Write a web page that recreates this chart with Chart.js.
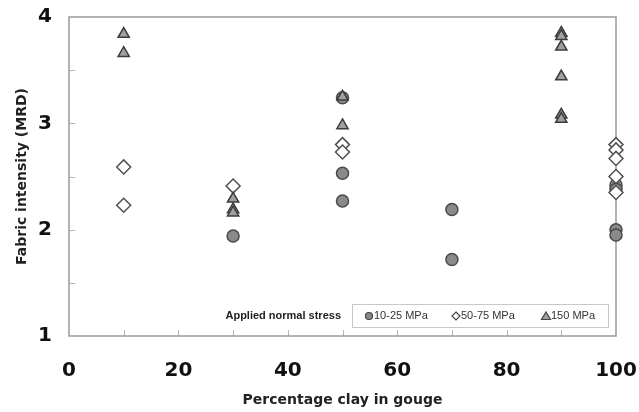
<!DOCTYPE html>
<html>
<head>
<meta charset="utf-8">
<script src="https://cdn.jsdelivr.net/npm/chart.js@4.4.1/dist/chart.umd.min.js"></script>
<style>
  body { margin: 0; background: #fff; }
  #wrap { width: 639px; height: 412px; }
</style>
</head>
<body>
<div id="wrap"><canvas id="fabricChart" width="639" height="412"></canvas></div>
<script>
// clay content (%) and fabric intensity (MRD) for each stress range
const lowX = [30, 50, 50, 50, 70, 70, 100, 100, 100, 100];
const lowY = [1.94, 3.24, 2.53, 2.27, 2.19, 1.72, 2.42, 2.38, 2.00, 1.95];

const midX = [10, 10, 30, 50, 50, 100, 100, 100, 100, 100];
const midY = [2.59, 2.23, 2.41, 2.80, 2.73, 2.80, 2.75, 2.67, 2.50, 2.35];

const highX = [10, 10, 30, 30, 30, 50, 50, 90, 90, 90, 90, 90, 90];
const highY = [3.84, 3.66, 2.29, 2.19, 2.16, 3.25, 2.98, 3.85, 3.82, 3.72, 3.44, 3.08, 3.04];

const seriesNames = ['10-25 MPa', '50-75 MPa', '150 MPa'];
const legendTitle = 'Applied normal stress';

function toPoints(xs, ys) {
    return xs.map((x, i) => ({ x: x, y: ys[i] }));
}

// frame, inward tick marks and the boxed legend
const framePlugin = {
    id: 'frame',
    beforeDatasetsDraw(chart) {
        const ctx = chart.ctx;
        const a = chart.chartArea;
        const xs = chart.scales.x;
        const ys = chart.scales.y;
        ctx.save();
        ctx.strokeStyle = '#b4b4b4';
        ctx.lineWidth = 1;
        for (let v = 10; v < 100; v += 10) {
            const px = Math.round(xs.getPixelForValue(v)) + 0.5;
            ctx.beginPath();
            ctx.moveTo(px, a.bottom);
            ctx.lineTo(px, a.bottom - 6);
            ctx.stroke();
        }
        for (let v = 1.5; v < 4; v += 0.5) {
            const py = Math.round(ys.getPixelForValue(v)) + 0.5;
            ctx.beginPath();
            ctx.moveTo(a.left, py);
            ctx.lineTo(a.left + 6, py);
            ctx.stroke();
        }
        ctx.strokeStyle = '#9a9a9a';
        ctx.lineWidth = 1.5;
        ctx.strokeRect(a.left, a.top, a.right - a.left, a.bottom - a.top);
        ctx.restore();
    },
    afterDraw(chart) {
        const ctx = chart.ctx;
        const a = chart.chartArea;
        const boxL = a.right - 264, boxR = a.right - 8;
        const boxT = a.bottom - 32, boxB = a.bottom - 9;
        const cy = (boxT + boxB) / 2 + 0.5;
        ctx.save();
        ctx.fillStyle = '#fff';
        ctx.fillRect(boxL, boxT, boxR - boxL, boxB - boxT);
        ctx.strokeStyle = '#c8c8c8';
        ctx.lineWidth = 1;
        ctx.strokeRect(boxL + 0.5, boxT + 0.5, boxR - boxL, boxB - boxT);

        ctx.fillStyle = '#222';
        ctx.textBaseline = 'middle';
        ctx.textAlign = 'right';
        ctx.font = 'bold 11px "Liberation Sans", Arial, sans-serif';
        ctx.fillText(legendTitle, boxL - 11, cy);

        ctx.font = '11px "Liberation Sans", Arial, sans-serif';
        ctx.textAlign = 'left';
        const markX = [boxL + 17, boxL + 104, boxL + 194];
        markX.forEach((mx, i) => {
            ctx.lineWidth = 1.2;
            ctx.strokeStyle = '#444';
            ctx.beginPath();
            if (i === 0) {
                ctx.arc(mx, cy, 3.5, 0, Math.PI * 2);
                ctx.fillStyle = '#8a8a8a';
            } else if (i === 1) {
                ctx.moveTo(mx, cy - 4);
                ctx.lineTo(mx + 4, cy);
                ctx.lineTo(mx, cy + 4);
                ctx.lineTo(mx - 4, cy);
                ctx.closePath();
                ctx.fillStyle = '#fff';
            } else {
                ctx.moveTo(mx, cy - 4);
                ctx.lineTo(mx + 4.5, cy + 3.5);
                ctx.lineTo(mx - 4.5, cy + 3.5);
                ctx.closePath();
                ctx.fillStyle = '#a0a0a0';
            }
            ctx.fill();
            ctx.stroke();
            ctx.fillStyle = '#333';
            ctx.fillText(seriesNames[i], mx + 5, cy);
        });
        ctx.restore();
    }
};

const tickFont = { family: '"DejaVu Sans", Verdana, sans-serif', size: 20, weight: 'bold' };
const titleFont = { family: '"DejaVu Sans", Verdana, sans-serif', size: 14, weight: 'bold' };

new Chart(document.getElementById('fabricChart'), {
    type: 'scatter',
    data: {
        datasets: [
            {
                label: seriesNames[2],
                data: toPoints(highX, highY),
                pointStyle: 'triangle',
                pointRadius: 6.5,
                backgroundColor: '#a0a0a0',
                borderColor: '#3c3c3c',
                borderWidth: 1.5,
                order: 1
            },
            {
                label: seriesNames[1],
                data: toPoints(midX, midY),
                pointStyle: 'rectRot',
                pointRadius: 7,
                backgroundColor: '#ffffff',
                borderColor: '#505050',
                borderWidth: 1.5,
                order: 2
            },
            {
                label: seriesNames[0],
                data: toPoints(lowX, lowY),
                pointStyle: 'circle',
                pointRadius: 6,
                backgroundColor: '#8a8a8a',
                borderColor: '#4a4a4a',
                borderWidth: 1.5,
                order: 3
            }
        ]
    },
    options: {
        responsive: false,
        animation: false,
        clip: false,
        layout: { padding: { left: 0, top: 17, right: 23, bottom: 0 } },
        plugins: {
            legend: { display: false },
            tooltip: { enabled: false }
        },
        scales: {
            x: {
                type: 'linear',
                min: 0,
                max: 100,
                grid: { display: false, drawTicks: false },
                border: { display: false },
                ticks: { stepSize: 20, padding: 23, color: '#111', font: tickFont, maxRotation: 0 },
                title: { display: true, text: 'Percentage clay in gouge', color: '#222', font: titleFont, padding: { top: 0, bottom: 3 } },
                afterFit(scale) {
                    scale.height = 76;
                    scale.paddingLeft = 0;
                    scale.paddingRight = 0;
                }
            },
            y: {
                min: 1,
                max: 4,
                grid: { display: false, drawTicks: false },
                border: { display: false },
                ticks: { stepSize: 1, padding: 17, color: '#111', font: tickFont },
                title: { display: true, text: 'Fabric intensity (MRD)', color: '#222', font: titleFont, padding: { top: 14, bottom: 0 } },
                afterFit(scale) {
                    scale.width = 69;
                    scale.paddingTop = 0;
                    scale.paddingBottom = 0;
                }
            }
        }
    },
    plugins: [framePlugin]
});
</script>
</body>
</html>
